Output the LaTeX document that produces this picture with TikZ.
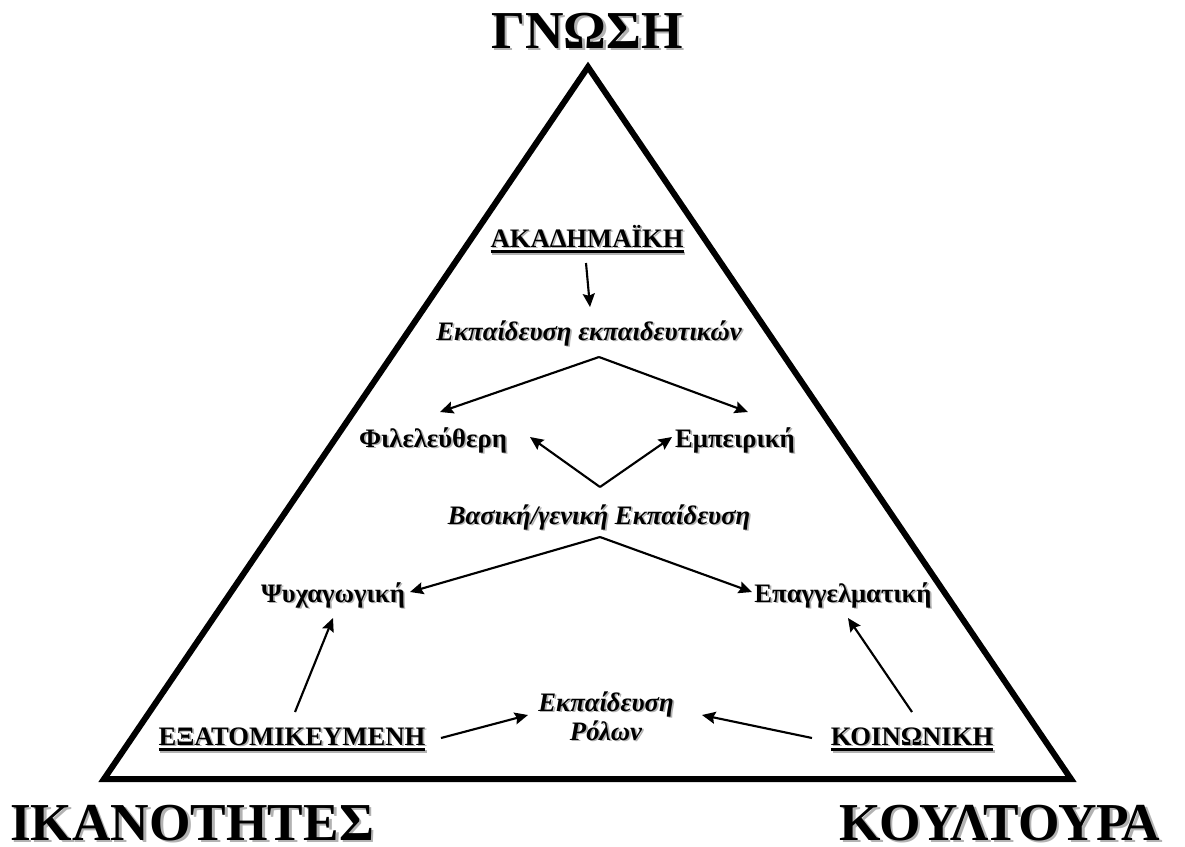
\documentclass[tikz,border=0pt]{standalone}
\usepackage{fontspec}
\setmainfont{Liberation Serif}
\usetikzlibrary{arrows.meta,calc}
% text with a soft grey drop shadow
\newcommand\shd[2][1.3pt]{\rlap{\kern#1\raisebox{-#1}{\color{black!30}#2}}#2}
% heavy underline
\newcommand\ulbox[1]{\setbox0\hbox{#1}\rlap{\rule[-4.5pt]{\wd0}{2pt}}\box0}
\begin{document}
\begin{tikzpicture}[x=0.75pt,y=-0.75pt,
  title/.style={font=\fontsize{40}{44}\bfseries\selectfont, inner sep=0, anchor=base},
  lbl/.style={font=\fontsize{20}{24}\bfseries\selectfont, inner sep=0, anchor=base},
  ilbl/.style={font=\fontsize{20}{24}\bfseries\itshape\selectfont, inner sep=0, anchor=base},
  arr/.style={-{Stealth[length=10pt,width=9pt,inset=1.5pt]}, line width=1.6pt}]
\useasboundingbox (0,0) rectangle (1185,846);

% the triangle
\draw[line width=4.5pt, line join=miter] (588,67) -- (1071,779) -- (104,779) -- cycle;

% corner titles
\node[title] (gn) at (587,48) {\shd[2pt]{ΓΝΩΣΗ}};
\node[title] (ik) at (192,840) {\shd[2pt]{ΙΚΑΝΟΤΗΤΕΣ}};
\node[title] (ko) at (1000,840) {\shd[2pt]{ΚΟΥΛΤΟΥΡΑ}};

% inner labels
\node[lbl] (ak) at (587,247) {\shd{\ulbox{ΑΚΑΔΗΜΑΪΚΗ}}};
\node[ilbl] (ee) at (589,340) {\shd{Εκπαίδευση εκπαιδευτικών}};
\node[lbl] (fi) at (433,447) {\shd{Φιλελεύθερη}};
\node[lbl] (em) at (735,447) {\shd{Εμπειρική}};
\node[ilbl] (bg) at (599,524) {\shd{Βασική/γενική Εκπαίδευση}};
\node[lbl] (ps) at (333,602) {\shd{Ψυχαγωγική}};
\node[lbl] (ep) at (843,602) {\shd{Επαγγελματική}};
\node[lbl] (ex) at (292,745) {\shd{\ulbox{ΕΞΑΤΟΜΙΚΕΥΜΕΝΗ}}};
\node[lbl] (ki) at (912,745) {\shd{\ulbox{ΚΟΙΝΩΝΙΚΗ}}};
\node[ilbl] (er1) at (606,711) {\shd{Εκπαίδευση}};
\node[ilbl] (er2) at (606,740) {\shd{Ρόλων}};

% fork points below the italic labels
\coordinate (f1) at (599,357);
\coordinate (f2) at (600,487);
\coordinate (f3) at (600,537);

\draw[arr] ($(ak.south)+(-1,8)$) -- (590,307);
\draw[arr] (f1) -- (440,412);
\draw[arr] (f1) -- (748,412);
\draw[arr] (f2) -- (530,437);
\draw[arr] (f2) -- (672,437);
\draw[arr] (f3) -- (410,592);
\draw[arr] (f3) -- (752,592);
\draw[arr] (295,712) -- (333,618);
\draw[arr] (912,712) -- (848,618);
\draw[arr] (441,738) -- (528,715);
\draw[arr] (812,738) -- (702,715);
\end{tikzpicture}
\end{document}
